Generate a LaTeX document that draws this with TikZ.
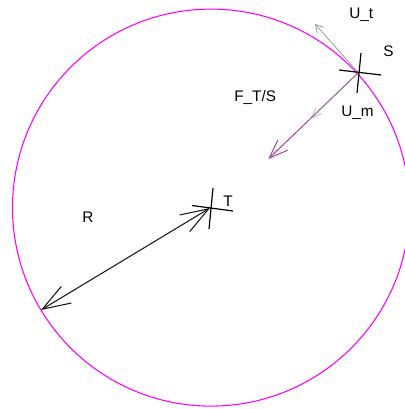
\documentclass[tikz,border=0pt]{standalone}
\usepackage{fontspec}
\setmainfont{Liberation Sans}
\usetikzlibrary{arrows.meta,calc}
\definecolor{mag}{HTML}{FF00FF}
\definecolor{purp}{HTML}{A040A8}
\definecolor{gry}{HTML}{9A9A9A}
\tikzset{
  lbl/.style={inner sep=0pt, anchor=base west, font=\fontsize{11.5}{13}\selectfont},
  crossline/.style={black, line width=0.9pt},
  orbit/.style={mag, line width=0.8pt},
  rarrow/.style={line width=0.8pt, black!90,
     {Straight Barb[length=21pt,width=14.6pt]}-{Straight Barb[length=21pt,width=14.6pt]}},
  farrow/.style={purp, line width=0.75pt, -{Straight Barb[length=14pt,width=10.7pt]}},
  marrow/.style={gry, opacity=0.6, line width=0.75pt, -{Straight Barb[length=7.9pt,width=5.6pt]}},
  tarrow/.style={gry, line width=0.6pt, -{Straight Barb[length=5.8pt,width=6.8pt]}},
}
\begin{document}
\begin{tikzpicture}[x=0.75pt,y=-0.75pt]
\useasboundingbox (0,0) rectangle (404,409);
\coordinate (C) at (211,207.6);
\coordinate (T) at (210,208);
\coordinate (S) at (358.3,72.7);
\coordinate (P) at (41,310);
\coordinate (Ft) at (268.3,159);
\coordinate (Um) at (310,119.3);
\coordinate (Ut) at (315,24);
% orbit
\draw[orbit] (C) circle[radius=198.5];
% R arrow
\draw[rarrow] (P) -- (T);
% force and velocity arrows
\draw[farrow] (S) -- (Ft);
\draw[marrow] (S) -- (Um);
\draw[tarrow] (S) -- (Ut);
% crosses
\draw[crossline] ($(T)+(-18,-2.5)$) -- ($(T)+(23,3)$);
\draw[crossline] ($(T)+(3,-20)$) -- ($(T)+(-1,21)$);
\draw[crossline] ($(S)+(-19.3,-2.7)$) -- ($(S)+(22.7,2.3)$);
\draw[crossline] ($(S)+(2.7,-19.7)$) -- ($(S)+(-1.3,20.3)$);
% labels
\node[lbl] (lUt) at (349,19) {U\_t};
\node[lbl] (lS) at (383,56.7) {S};
\node[lbl] (lF) at (234,101.5) {F\_T/S};
\node[lbl] (lUm) at (341,117) {U\_m};
\node[lbl] (lR) at (82,222.3) {R};
\node[lbl] (lT) at (223,206) {T};
\end{tikzpicture}
\end{document}
